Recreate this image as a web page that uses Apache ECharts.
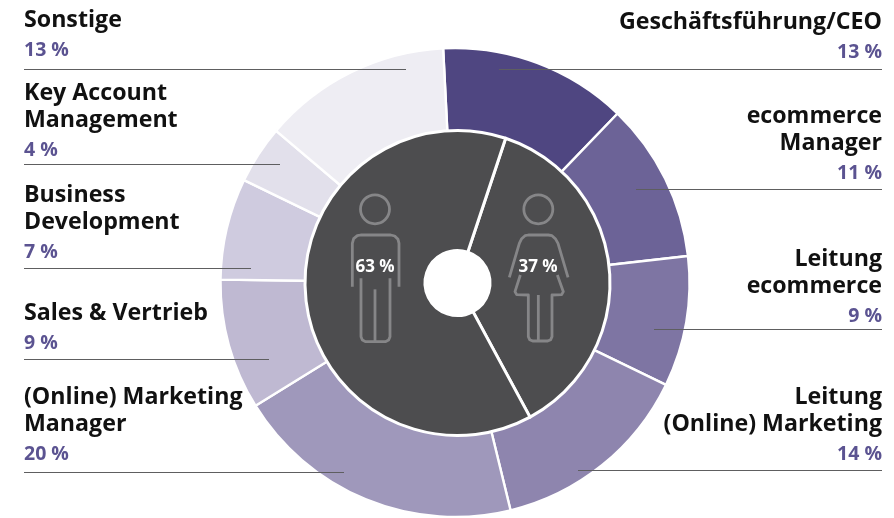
<!DOCTYPE html>
<html><head><meta charset="utf-8">
<style>html,body{margin:0;padding:0;background:#fff}#c{width:894px;height:518px}</style>
<script src="https://cdn.jsdelivr.net/npm/echarts@6/dist/echarts.min.js"></script>
</head><body><div id="c"></div>
<script>
const roles = ['Geschäftsführung/CEO','ecommerce\nManager','Leitung\necommerce','Leitung\n(Online) Marketing','(Online) Marketing\nManager','Sales & Vertrieb','Business\nDevelopment','Key Account\nManagement','Sonstige'];
const roleShares = [13,11,9,14,20,9,7,4,13];
const genders = ['Frauen','Männer'];
const genderShares = [37,63];

const ringColors = ['#4f4681','#6c6397','#7e75a3','#8e85ae','#9f98bb','#bfb9d2','#cfcbdf','#e2e0eb','#eeedf3'];
// label block: x, top y, leader line y, leader line inner end x
const labelPlace = [
  [882,9,69,499],[882,102.5,189,636],[882,245.5,329,654],[882,383.5,470,578],
  [24,383.5,472,344],[24,299.5,359,269],[24,181.5,268,251],[24,80,164,280],[24,7,69,406]
];
const genderLabelPlace = [[538,267],[375,267]];
const FONT = '"Open Sans"';
const chart = echarts.init(document.getElementById('c'), null, {renderer:'canvas'});

const ink = '#868688';
const line = (pts) => ({type:'polyline', silent:true, z:20, shape:{points:pts.map(p=>[p[0]/3+200,p[1]/3+30])},
  style:{stroke:ink, lineWidth:2.8, fill:null, lineJoin:'round', lineCap:'butt'}});
const head = (x) => ({type:'circle', silent:true, z:20, shape:{cx:x/3+200, cy:538/3+30, r:14.5}, style:{stroke:ink, lineWidth:2.8, fill:null}});
const icons = [
  head(525),
  line([[457,770],[457,640],[461,626],[472,617],[482,615],[572,615],[584,618],[594,628],[597,640],[597,770]]),
  line([[483,745],[483,920],[487,930],[497,935],[556,935],[566,930],[570,920],[570,745]]),
  line([[525,778],[525,935]]),
  head(1015),
  line([[928,742],[958,640],[965,626],[975,617],[985,615],[1045,615],[1056,617],[1066,626],[1074,640],[1104,742]]),
  line([[961,735],[945,785],[950,794],[985,795],[985,920],[989,929],[998,933],[1043,933],[1052,929],[1056,920],[1056,795],[1085,794],[1090,785],[1072,735]]),
  line([[1015,795],[1015,933]])
];
const leaders = labelPlace.map(q=>({type:'line', silent:true, z:20,
  shape:{x1:q[0],y1:q[2]+.5,x2:q[3],y2:q[2]+.5},
  style:{stroke:'#5e5e60',lineWidth:1}}));

chart.setOption({
  backgroundColor:'#fff',
  animation:false,
  graphic:icons.concat(leaders),
  series:[
    {
      type:'pie', center:[455,282.5], radius:[148,234.5], startAngle:92.9, clockwise:true, silent:true,
      data:roles.map((n,i)=>({name:n,value:roleShares[i],itemStyle:{color:ringColors[i]}})),
      itemStyle:{borderColor:'#fff',borderWidth:2.4},
      label:{show:true,position:'inside',fontFamily:FONT,
        formatter:(p)=>p.name.split('\n').map(s=>'{n|'+s+'}').join('\n')+'\n{p|'+p.value+' %}',
        rich:{n:{fontFamily:FONT,fontWeight:700,fontSize:23.2,lineHeight:27,color:'#111'},
              p:{fontFamily:FONT,fontWeight:700,fontSize:19.5,lineHeight:33,color:'#5b5391'}}},
      labelLine:{show:false},
      labelLayout:(p)=>{const q=labelPlace[p.dataIndex];return {x:q[0],y:q[1],align:q[0]>400?'right':'left',verticalAlign:'top'};}
    },
    {
      type:'pie', center:[457.5,283], radius:[32.5,152.5], startAngle:71.6, clockwise:true, silent:true,
      data:genders.map((n,i)=>({name:n,value:genderShares[i]})),
      itemStyle:{color:'#4d4d4f',borderColor:'#fff',borderWidth:3},
      label:{show:true,position:'inside',formatter:'{c} %',fontFamily:FONT,fontWeight:700,fontSize:17,color:'#fff'},
      labelLine:{show:false},
      labelLayout:(p)=>{const q=genderLabelPlace[p.dataIndex];return {x:q[0],y:q[1],align:'center',verticalAlign:'middle'};}
    }
  ]
});
</script></body></html>
